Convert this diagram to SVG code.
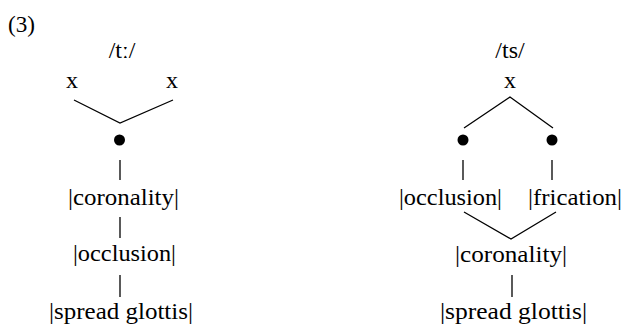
<svg xmlns="http://www.w3.org/2000/svg" width="623" height="327" viewBox="0 0 623 327">
<style>
text{font-family:"Liberation Serif","Times New Roman",serif;font-size:24px;fill:#000}
.m{text-anchor:middle}
.c line,.c polyline{stroke:#000;stroke-width:1.3;fill:none}
.dot{fill:#000}
</style>
<rect width="623" height="327" fill="#fff"/>
<text x="8" y="32" textLength="27" lengthAdjust="spacingAndGlyphs">(3)</text>
<g id="left-tree">
<g id="L-label"><text class="m" x="122" y="58">/tː/</text></g>
<g id="L-x1"><text class="m" x="72" y="88">x</text></g>
<g id="L-x2"><text class="m" x="172" y="88">x</text></g>
<g id="L-dot"><circle class="dot" cx="119.5" cy="140" r="5.5"/></g>
<g id="L-coronality"><text x="68" y="205" textLength="111" lengthAdjust="spacingAndGlyphs">|coronality|</text></g>
<g id="L-occlusion"><text x="73" y="261" textLength="103" lengthAdjust="spacingAndGlyphs">|occlusion|</text></g>
<g id="L-spread"><text x="49" y="319" textLength="144" lengthAdjust="spacingAndGlyphs">|spread glottis|</text></g>
</g>
<g id="right-tree">
<g id="R-label"><text class="m" x="510" y="58">/ts/</text></g>
<g id="R-x"><text class="m" x="510" y="88">x</text></g>
<g id="R-dot1"><circle class="dot" cx="463" cy="140" r="5.5"/></g>
<g id="R-dot2"><circle class="dot" cx="552" cy="140" r="5.5"/></g>
<g id="R-occlusion"><text x="399" y="205" textLength="103" lengthAdjust="spacingAndGlyphs">|occlusion|</text></g>
<g id="R-frication"><text x="528" y="205" textLength="94" lengthAdjust="spacingAndGlyphs">|frication|</text></g>
<g id="R-coronality"><text x="455" y="262" textLength="112" lengthAdjust="spacingAndGlyphs">|coronality|</text></g>
<g id="R-spread"><text x="440" y="319" textLength="147" lengthAdjust="spacingAndGlyphs">|spread glottis|</text></g>
</g>
<g id="connectors" class="c">
<polyline points="74,100 120,123 173,100"/>
<line x1="120" y1="160" x2="120" y2="180"/>
<line x1="120" y1="217" x2="120" y2="238"/>
<line x1="120" y1="275" x2="120" y2="297"/>
<polyline points="464,128 510,97 553,128"/>
<line x1="463" y1="160" x2="463" y2="180"/>
<line x1="552" y1="160" x2="552" y2="180"/>
<polyline points="464,212 511,239 556,212"/>
<line x1="512" y1="275" x2="512" y2="297"/>
</g>
</svg>
